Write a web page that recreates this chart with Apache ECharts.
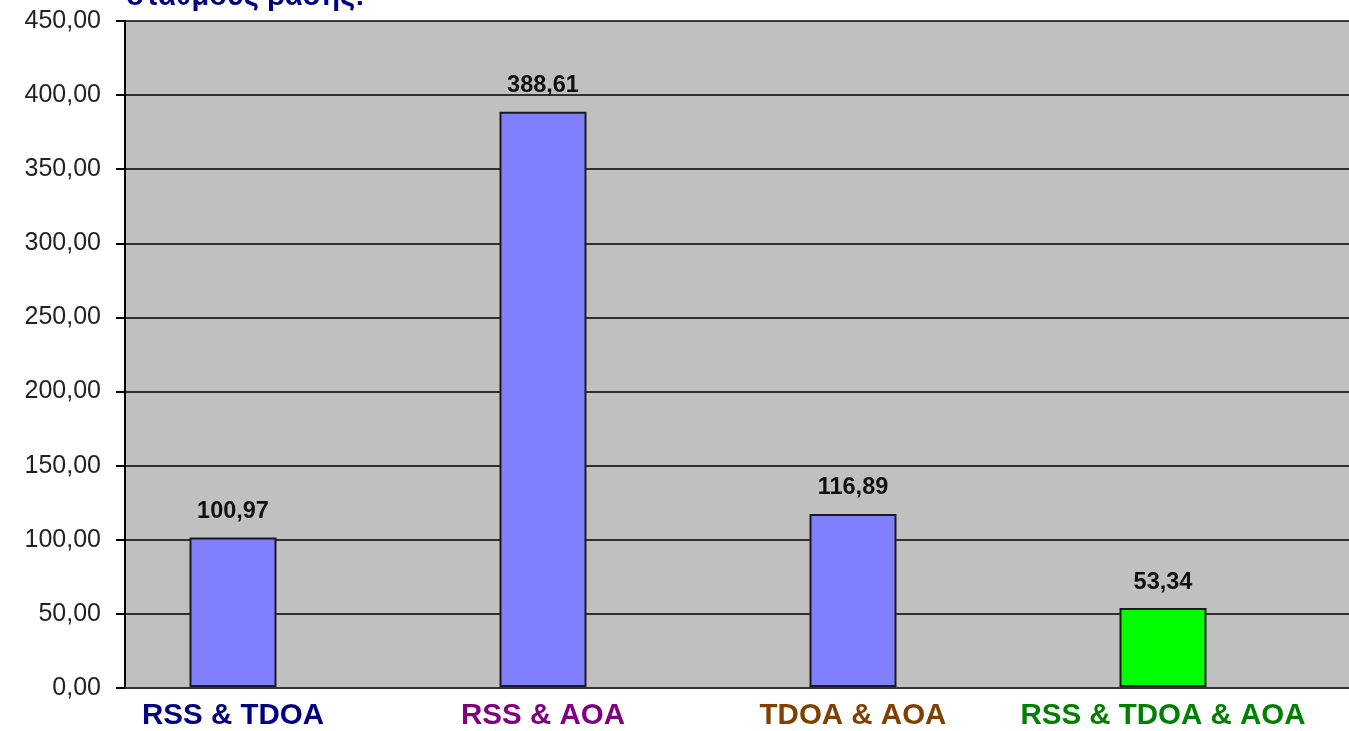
<!DOCTYPE html>
<html>
<head>
<meta charset="utf-8">
<style>
  html, body { margin: 0; padding: 0; background: #ffffff; }
  #chart { width: 1349px; height: 731px; }
</style>
<script src="https://cdn.jsdelivr.net/npm/echarts@6/dist/echarts.min.js"></script>
</head>
<body>
<div id="chart"></div>
<script>
// Localisation error per combination of techniques
const categories = ['RSS & TDOA', 'RSS & AOA', 'TDOA & AOA', 'RSS & TDOA & AOA'];
const values = [100.97, 388.61, 116.89, 53.34];
const barColors = ['#8080ff', '#8080ff', '#8080ff', '#00ff00'];
const labelColors = ['#000080', '#800080', '#804000', '#008000'];
const yTicks = [0, 50, 100, 150, 200, 250, 300, 350, 400, 450];
const titleText = 'σταθμούς βάσης:';

const fmt = v => v.toFixed(2).replace('.', ',');

const chart = echarts.init(document.getElementById('chart'));

const plotTop = 21, plotBottom = 731 - 688;

chart.setOption({
  animation: false,
  backgroundColor: '#ffffff',
  graphic: [{
    type: 'text',
    left: 126,
    top: -18,
    style: {
      text: titleText,
      font: 'bold 29px "Liberation Sans", Arial, sans-serif',
      fill: '#000080'
    }
  }],
  grid: [
    { left: 125, right: -2, top: plotTop, bottom: plotBottom, show: true,
      backgroundColor: '#c0c0c0', borderWidth: 0 },
    { left: 78, width: 1240, top: plotTop, bottom: plotBottom }
  ],
  xAxis: [
    { gridIndex: 0, type: 'category', data: categories,
      axisLine: { show: true, lineStyle: { color: '#333', width: 2 } },
      axisTick: { show: false }, axisLabel: { show: false } },
    { gridIndex: 1, type: 'category',
      data: categories.map((c, i) => ({ value: c, textStyle: { color: labelColors[i] } })),
      axisLine: { show: false }, axisTick: { show: false },
      axisLabel: {
        interval: 0,
        margin: 14,
        fontFamily: '"Liberation Sans", Arial, sans-serif',
        fontWeight: 'bold', fontSize: 29.5
      } }
  ],
  yAxis: [
    { gridIndex: 0, type: 'value', min: yTicks[0], max: yTicks[yTicks.length - 1], interval: 50,
      axisLine: { show: true, lineStyle: { color: '#000', width: 2 } },
      axisTick: { show: true, inside: false, length: 9, lineStyle: { color: '#000', width: 2 } },
      axisLabel: {
        margin: 24, formatter: v => fmt(v),
        fontFamily: '"Liberation Sans", Arial, sans-serif', fontSize: 25, color: '#222'
      },
      splitLine: { show: true, lineStyle: { color: '#000', width: 1.5 } } },
    { gridIndex: 1, type: 'value', min: yTicks[0], max: yTicks[yTicks.length - 1], interval: 50,
      show: false, splitLine: { show: false } }
  ],
  series: [{
    type: 'bar',
    xAxisIndex: 1, yAxisIndex: 1,
    barWidth: 87,
    data: values.map((v, i) => ({
      value: v,
      itemStyle: { color: barColors[i], borderColor: '#1a1a1a', borderWidth: 2 }
    })),
    label: {
      show: true, position: 'top', distance: 14,
      formatter: p => fmt(p.value),
      fontFamily: '"Liberation Sans", Arial, sans-serif',
      fontWeight: 'bold', fontSize: 23.5, color: '#111'
    }
  }]
});
</script>
</body>
</html>
